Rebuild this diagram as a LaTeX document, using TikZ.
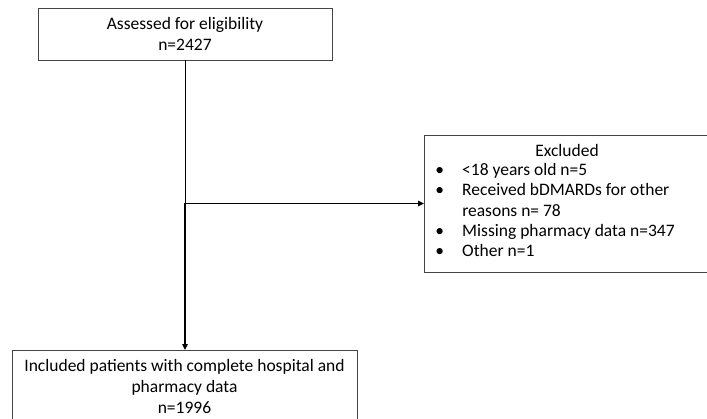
\documentclass[tikz,border=0pt]{standalone}
\usepackage{fontspec}
\setmainfont{Carlito}
\usetikzlibrary{arrows.meta,positioning}
\definecolor{flowink}{HTML}{444444}
\tikzset{
  flowbox/.style={draw=flowink,line width=0.9pt,fill=white,align=center,
    inner sep=0pt,font=\fontsize{17.5}{21.2}\selectfont},
  flowtext/.style={inner sep=0pt,font=\fontsize{17.5}{20.2}\selectfont},
  flowthin/.style={draw=black,line width=0.7pt},
  flowarrow/.style={draw=black,line width=1.4pt,-{Triangle[length=6pt,width=5.5pt]}},
}
\newcommand{\flowitem}[1]{\makebox[27pt][l]{\textbullet}#1}

\begin{document}
\begin{tikzpicture}[x=1pt,y=-1pt]
  \useasboundingbox (0,0) rectangle (707,418);
  % boxes
  \node[flowbox,minimum width=294pt,minimum height=52pt] (assessed) at (185,34)
    {Assessed for eligibility\\n=2427};
  \node[flowbox,minimum width=285pt,minimum height=137pt] (excluded) at (567,203.5) {};
  \node[flowtext,anchor=base] (exctitle) at ([yshift=-22pt]excluded.north) {Excluded};
  % base of a multi-line node sits on its last line
  \node[flowtext,align=left,anchor=base west] (exclist) at ([xshift=11pt,yshift=-122pt]excluded.north west)
    {\flowitem{<18 years old n=5}\\
     \flowitem{Received bDMARDs for other}\\
     \makebox[27pt]{}reasons n= 78\\
     \flowitem{Missing pharmacy data n=347}\\
     \flowitem{Other n=1}};
  \node[flowbox,minimum width=345pt,anchor=north,inner ysep=8.5pt] (included) at (184.5,350)
    {Included patients with complete hospital and\\pharmacy data\\n=1996};
  % connectors
  \coordinate (split) at (assessed.south |- excluded.west);
  \draw[flowthin] (assessed.south) -- (split);
  \draw[flowarrow] ([yshift=-0.7pt]split) -- (split |- included.north);
  \draw[flowarrow] ([xshift=-0.7pt]split) -- (excluded.west);
\end{tikzpicture}
\end{document}
